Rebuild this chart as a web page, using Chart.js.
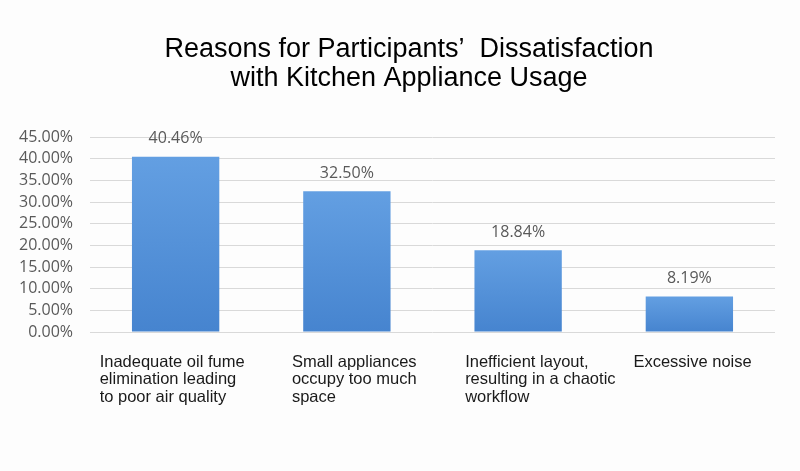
<!DOCTYPE html>
<html>
<head>
<meta charset="utf-8">
<script src="https://cdn.jsdelivr.net/npm/chart.js@4"></script>
<style>
  html, body { margin: 0; padding: 0; background: #fdfdfd; }
  #wrap { width: 800px; height: 471px; position: relative; }
</style>
</head>
<body>
<div id="wrap"><canvas id="reasonsChart"></canvas></div>
<script>
const categories = [
    ['Inadequate oil fume', 'elimination leading', 'to poor air quality'],
    ['Small appliances', 'occupy too much', 'space'],
    ['Inefficient layout,', 'resulting in a chaotic', 'workflow'],
    ['Excessive noise']
];
const shares = [40.46, 32.50, 18.84, 8.19];
const yTicks = [0, 5, 10, 15, 20, 25, 30, 35, 40, 45];
const titleLines = ['Reasons for Participants’  Dissatisfaction', 'with Kitchen Appliance Usage'];

// per-bar gradient, lighter at the top
function barFill(context) {
    const chart = context.chart;
    const area = chart.chartArea;
    if (!area) return '#5590d6';
    const y = chart.scales.y;
    const top = y.getPixelForValue(context.raw);
    const bottom = y.getPixelForValue(0);
    const g = chart.ctx.createLinearGradient(0, top, 0, bottom);
    g.addColorStop(0, '#639fe2');
    g.addColorStop(1, '#4684cf');
    return g;
}

// title sits a bit right of the canvas centre in the original
const titleText = {
    id: 'titleText',
    afterDraw(chart) {
        const ctx = chart.ctx;
        ctx.save();
        ctx.font = '27px "Liberation Sans", Arial, sans-serif';
        ctx.fillStyle = '#000';
        ctx.textAlign = 'center';
        ctx.textBaseline = 'middle';
        titleLines.forEach((line, i) => {
            ctx.fillText(line, 409, 50 + i * 29);
        });
        ctx.restore();
    }
};

const valueLabels = {
    id: 'valueLabels',
    afterDatasetsDraw(chart) {
        const ctx = chart.ctx;
        const meta = chart.getDatasetMeta(0);
        ctx.save();
        ctx.font = '16px "Open Sans", sans-serif';
        ctx.fillStyle = '#595959';
        ctx.textAlign = 'center';
        ctx.textBaseline = 'middle';
        meta.data.forEach((bar, i) => {
            ctx.fillText(shares[i].toFixed(2) + '%', bar.x, bar.y - 18);
        });
        ctx.restore();
    }
};

// category labels: left aligned lines under each bar
const categoryLabels = {
    id: 'categoryLabels',
    afterDraw(chart) {
        const ctx = chart.ctx;
        const x = chart.scales.x;
        const shift = [-76, -55, -53, -56];
        ctx.save();
        ctx.font = '16.5px "Liberation Sans", Arial, sans-serif';
        ctx.fillStyle = '#1a1a1a';
        ctx.textAlign = 'left';
        ctx.textBaseline = 'middle';
        categories.forEach((lines, i) => {
            const cx = x.getPixelForValue(i) + shift[i];
            lines.forEach((line, j) => {
                ctx.fillText(line, cx, chart.chartArea.bottom + 30 + j * 17.5);
            });
        });
        ctx.restore();
    }
};

const ctx = document.getElementById('reasonsChart').getContext('2d');
const reasonsChart = new Chart(ctx, {
    type: 'bar',
    data: {
        labels: categories.map(c => c.join(' ')),
        datasets: [{
            data: shares,
            backgroundColor: barFill,
            borderWidth: 0,
            categoryPercentage: 1,
            barPercentage: 0.51
        }]
    },
    options: {
        responsive: true,
        maintainAspectRatio: false,
        animation: false,
        layout: { padding: { left: 0, right: 25, top: 137, bottom: 139 } },
        plugins: {
            legend: { display: false },
            tooltip: { enabled: false },
            title: { display: false }
        },
        scales: {
            x: {
                display: false
            },
            y: {
                min: 0,
                max: 45,
                afterBuildTicks: (scale) => { scale.ticks = yTicks.map(v => ({ value: v })); },
                afterFit: (scale) => { scale.width = 90; },
                grid: { color: '#d9d9d9', lineWidth: 1, drawTicks: false },
                border: { display: false },
                ticks: {
                    autoSkip: false,
                    padding: 17,
                    color: '#595959',
                    font: { family: '"Open Sans", sans-serif', size: 16 },
                    callback: (v) => v.toFixed(2) + '%'
                }
            }
        }
    },
    plugins: [titleText, valueLabels, categoryLabels]
});
</script>
</body>
</html>
